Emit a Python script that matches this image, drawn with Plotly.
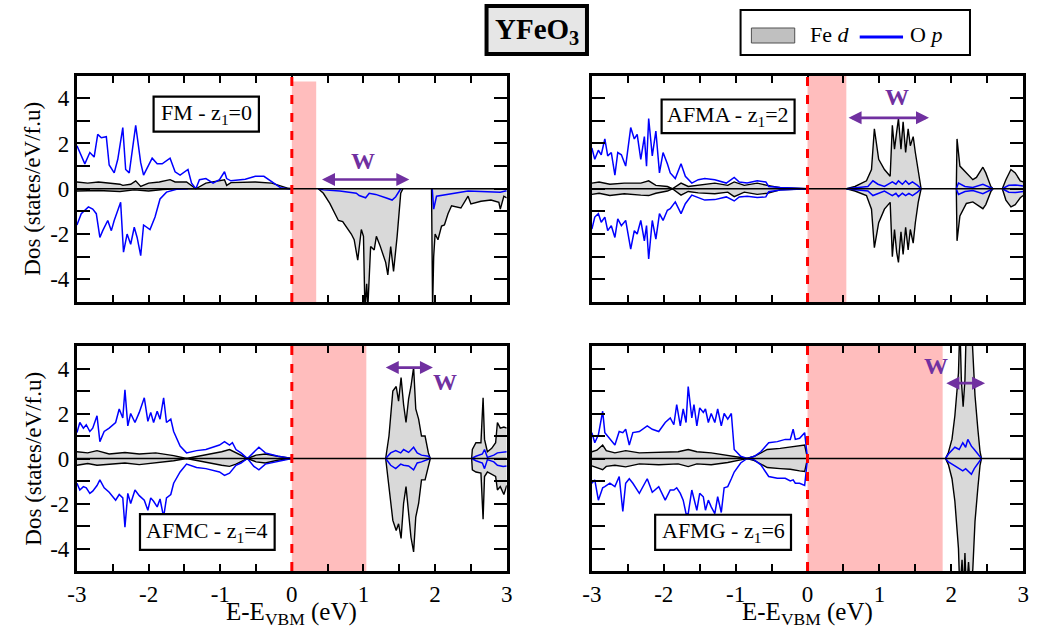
import plotly.graph_objects as go

W, H = 1039, 633
SERIF = "Liberation Serif, Times New Roman, Times, serif"
PURPLE = "#7030a0"
PINK = "#ffbdbd"
GRAY_FILL = "#d9d9d9"
BLUE = "#0000ff"

# ---------------- tick labels ----------------
X_TICKS = [-3, -2, -1, 0, 1, 2, 3]
X_TICK_TEXT = ["-3", "-2", "-1", "0", "1", "2", "3"]
Y_TICKS = [-4, -2, 0, 2, 4]
Y_TICK_TEXT = ["-4", "-2", "0", "2", "4"]

# ---------------- panel labels / band gaps / W arrows ----------------
PANEL_LABELS = ["FM - z<sub>1</sub>=0", "AFMA - z<sub>1</sub>=2",
                "AFMC - z<sub>1</sub>=4", "AFMG - z<sub>1</sub>=6"]
GAP_END = [0.34, 0.54, 1.04, 1.88]
GAP_TOP = [4.74, 5.0, 5.0, 5.0]
W_START = [0.40, 0.55, 1.29, 1.91]
W_END = [1.64, 1.69, 1.97, 2.47]
W_LEVEL = [0.41, 3.13, 4.04, 3.35]

# ---------------- FM ----------------
FM_FE_UP_X = [-3.0, -2.85, -2.7, -2.55, -2.4, -2.36, -2.25, -2.18, -2.11, -2.0, -1.85, -1.70, -1.63,
              -1.47, -1.40, -1.34, -1.20, -1.01, -0.94, -0.91, -0.85, -0.51, -0.28, -0.05, 0.0]
FM_FE_UP_Y = [0.3, 0.25, 0.3, 0.25, 0.2, 0.15, 0.2, 0.35, 0.1, 0.25, 0.3, 0.4, 0.3,
              0.3, 0.15, 0.0, 0.25, 0.35, 0.4, 0.15, 0.27, 0.3, 0.25, 0.02, 0.0]
FM_FE_DN_X = [-3.0, -2.7, -2.4, -2.2, -2.0, -1.8, -1.6, 0.0, None,
              0.37, 0.44, 0.53, 0.60, 0.65, 0.71, 0.78, 0.83, 0.87, 0.92, 0.97, 1.0, 1.02, 1.045,
              1.06, 1.08, 1.10, 1.15, 1.18, 1.23, 1.26, 1.31, 1.34, 1.38, 1.42, 1.47, 1.52, 1.55, None,
              1.95, 1.965, 1.98, 2.0, 2.04, 2.09, 2.13, 2.18, 2.23, 2.36, 2.46, 2.50, 2.64, 2.78,
              2.89, 2.91, 2.96, 3.0]
FM_FE_DN_Y = [-0.1, -0.08, -0.12, -0.05, -0.1, -0.03, 0.0, 0.0, None,
              0.0, -0.2, -0.65, -1.1, -1.4, -1.45, -1.75, -2.0, -2.25, -3.15, -1.8, -2.1, -5.3, -4.2,
              -5.3, -3.75, -2.55, -2.7, -2.1, -2.5, -2.8, -3.25, -3.8, -2.55, -3.65, -2.1, -0.2, 0.0, None,
              0.0, -5.3, -3.0, -2.0, -2.25, -1.65, -1.6, -1.1, -0.75, -0.85, -0.33, -0.67, -0.55, -0.5,
              -0.6, -0.9, -0.33, -0.4]
FM_OP_UP_X = [-3.0, -2.96, -2.89, -2.82, -2.76, -2.71, -2.66, -2.59, -2.55, -2.48, -2.43, -2.36, -2.32,
              -2.27, -2.23, -2.18, -2.11, -2.07, -1.95, -1.88, -1.81, -1.70, -1.63, -1.56, -1.45, -1.40,
              -1.34, -1.29, -1.20, -1.10, -1.01, -0.94, -0.91, -0.85, -0.65, -0.51, -0.39, -0.28, -0.16,
              -0.05, 0.0]
FM_OP_UP_Y = [1.9, 1.6, 1.1, 1.6, 1.4, 2.4, 2.25, 2.3, 1.05, 0.7, 1.3, 2.7, 0.85,
              0.7, 1.6, 2.8, 1.15, 0.6, 1.35, 1.1, 1.1, 1.35, 0.75, 0.6, 0.85, 0.25,
              0.0, 0.4, 0.45, 0.25, 0.4, 0.75, 0.45, 0.35, 0.42, 0.55, 0.55, 0.3, 0.05,
              0.0, 0.0]
FM_OP_DN_X = [-3.0, -2.94, -2.84, -2.78, -2.73, -2.68, -2.64, -2.57, -2.52, -2.48, -2.39, -2.35, -2.30,
              -2.25, -2.20, -2.16, -2.11, -2.07, -1.98, -1.91, -1.84, -1.75, -1.61, -1.45, None,
              0.37, 0.44, 0.67, 0.90, 0.94, 1.03, 1.08, 1.17, 1.31, 1.40, 1.45, 1.52, None,
              1.96, 1.98, 2.02, 2.18, 2.46, 2.73, 2.91, 2.98, 3.0]
FM_OP_DN_Y = [-1.6, -1.1, -0.8, -0.9, -1.1, -2.15, -1.85, -1.4, -1.85, -1.4, -0.6, -2.8, -2.0,
              -2.45, -1.7, -2.15, -2.95, -1.6, -1.8, -1.25, -0.45, -0.15, -0.02, 0.0, None,
              0.0, -0.05, -0.1, -0.2, -0.3, -0.4, -0.2, -0.25, -0.4, -0.5, -0.35, 0.0, None,
              0.0, -0.9, -0.33, -0.25, -0.1, -0.13, -0.15, -0.1, -0.1]

# ---------------- AFMA ----------------
AFMA_FE_X = [-3.0, -2.9, -2.75, -2.55, -2.32, -2.21, -2.11, -1.95, -1.88, -1.76, -1.66, -1.52, -1.29,
             -1.11, -1.02, -0.88, -0.70, -0.56, -0.38, 0.0, None,
             0.543, 0.66, 0.82, 0.89, 0.93, 0.99, 1.07, 1.15, 1.18, 1.21, 1.24, 1.265, 1.30, 1.33,
             1.365, 1.40, 1.43, 1.47, 1.50, 1.54, 1.58, None,
             2.07, 2.08, 2.12, 2.21, 2.30, 2.35, 2.44, 2.48, 2.55, 2.58, None,
             2.71, 2.76, 2.83, 2.89, 2.96, 3.0]
AFMA_FE_UP_Y = [0.25, 0.3, 0.2, 0.25, 0.25, 0.35, 0.15, 0.1, 0.0, 0.25, 0.1, 0.15, 0.25,
                0.15, 0.3, 0.15, 0.25, 0.15, 0.05, 0.0, None,
                0.0, 0.1, 0.35, 0.85, 2.65, 1.3, 0.85, 0.55, 2.8, 1.75, 2.5, 3.1, 1.75, 2.95,
                1.6, 2.65, 1.9, 2.3, 1.6, 0.7, 0.0, None,
                0.0, 2.2, 1.0, 0.7, 0.4, 0.5, 0.95, 0.7, 0.1, 0.0, None,
                0.0, 0.4, 0.85, 0.7, 0.35, 0.3]
AFMA_FE_DN_Y = [-0.25, -0.2, -0.3, -0.22, -0.28, -0.3, -0.2, -0.1, 0.0, -0.28, -0.12, -0.18, -0.22,
                -0.15, -0.35, -0.15, -0.25, -0.2, -0.05, 0.0, None,
                0.0, -0.1, -0.3, -0.9, -2.6, -1.5, -0.9, -0.6, -3.0, -1.8, -2.8, -3.25, -1.9, -2.9,
                -1.7, -2.7, -1.8, -2.4, -1.5, -0.6, 0.0, None,
                0.0, -2.3, -1.2, -0.65, -0.58, -0.7, -0.88, -0.7, -0.13, 0.0, None,
                0.0, -0.5, -0.8, -0.7, -0.4, -0.3]
AFMA_OP_X = [-3.0, -2.96, -2.91, -2.87, -2.82, -2.78, -2.73, -2.68, -2.64, -2.59,
             -2.53, -2.46, -2.41, -2.37, -2.32, -2.27, -2.24, -2.21, -2.16, -2.11,
             -2.06, -2.01, -1.95, -1.91, -1.84, -1.76, -1.70, -1.61, -1.52, -1.43,
             -1.29, -1.13, -1.02, -0.95, -0.84, -0.70, -0.58, -0.54, -0.38, -0.2, 0.0, None,
             0.543, 0.84, 0.91, 0.98, 1.07, 1.18, 1.23, 1.265, 1.32, 1.365, 1.41, 1.46, 1.53, 1.58, None,
             2.07, 2.1, 2.19, 2.3, 2.44, 2.55, 2.58, None,
             2.71, 2.8, 2.89, 3.0]
AFMA_OP_UP_Y = [1.8, 1.3, 1.7, 1.5, 2.2, 1.45, 1.6, 0.6, 1.6, 1.5,
                1.0, 2.7, 2.2, 2.4, 1.3, 2.3, 1.0, 3.1, 1.45, 2.55,
                0.7, 1.6, 1.1, 0.7, 0.45, 1.1, 0.55, 0.25, 0.4, 0.45,
                0.4, 0.25, 0.5, 0.3, 0.25, 0.35, 0.3, 0.1, 0.05, 0.02, 0.0, None,
                0.0, 0.1, 0.35, 0.2, 0.1, 0.3, 0.2, 0.35, 0.2, 0.35, 0.2, 0.3, 0.15, 0.0, None,
                0.0, 0.25, 0.1, 0.06, 0.2, 0.05, 0.0, None,
                0.0, 0.15, 0.17, 0.12]
AFMA_OP_DN_Y = [-1.78, -1.25, -1.1, -1.48, -1.25, -1.85, -1.63, -2.15, -1.33, -1.63,
                -1.4, -2.67, -1.85, -2.0, -1.4, -2.3, -1.63, -3.1, -1.4, -2.22,
                -1.1, -1.4, -0.95, -0.88, -0.58, -1.1, -0.66, -0.28, -0.39, -0.5,
                -0.48, -0.36, -0.54, -0.36, -0.33, -0.39, -0.36, -0.13, -0.06, -0.03, 0.0, None,
                0.0, -0.1, -0.3, -0.2, -0.1, -0.3, -0.2, -0.35, -0.2, -0.3, -0.2, -0.3, -0.15, 0.0, None,
                0.0, -0.25, -0.12, -0.08, -0.22, -0.05, 0.0, None,
                0.0, -0.15, -0.17, -0.12]

# ---------------- AFMC ----------------
AFMC_FE_X = [-3.0, -2.85, -2.72, -2.55, -2.33, -2.13, -1.9, -1.65, -1.47, -1.2, -0.98, -0.87, -0.78,
             -0.62, -0.5, -0.37, -0.2, 0.0, None,
             1.31, 1.356, 1.41, 1.457, 1.49, 1.525, 1.56, 1.594, 1.63, 1.663, 1.70, 1.73, 1.77, 1.81,
             1.86, 1.906, 1.933, None,
             2.51, 2.52, 2.57, 2.64, 2.67, 2.69, 2.73, 2.79, 2.845, 2.87, 2.91, 2.96, 3.0]
AFMC_FE_UP_Y = [0.3, 0.25, 0.35, 0.2, 0.27, 0.2, 0.25, 0.13, 0.0, 0.15, 0.3, 0.4, 0.25,
                0.0, 0.15, 0.2, 0.1, 0.0, None,
                0.0, 1.0, 3.0, 3.2, 2.55, 3.6, 2.4, 1.6, 2.65, 3.2, 4.05, 2.2, 1.75, 1.0,
                1.0, 0.25, 0.0, None,
                0.0, 0.4, 0.7, 0.7, 2.7, 0.85, 0.3, 0.45, 0.7, 1.6, 1.35, 1.4, 1.35]
AFMC_FE_DN_Y = [-0.3, -0.22, -0.3, -0.25, -0.2, -0.27, -0.2, -0.1, 0.0, -0.18, -0.3, -0.35, -0.25,
                0.0, -0.15, -0.2, -0.08, 0.0, None,
                0.0, -1.25, -2.75, -3.2, -2.9, -3.55, -2.0, -1.25, -2.45, -3.5, -4.15, -2.6, -2.0, -0.95,
                -0.95, -0.35, 0.0, None,
                0.0, -0.5, -0.6, -0.65, -2.7, -0.8, -0.6, -0.7, -0.8, -1.4, -1.25, -1.6, -1.2]
AFMC_OP_X = [-3.0, -2.96, -2.91, -2.87, -2.82, -2.78, -2.72, -2.68, -2.62, -2.55,
             -2.46, -2.41, -2.36, -2.33, -2.29, -2.25, -2.19, -2.13, -2.06, -2.01,
             -1.97, -1.93, -1.88, -1.84, -1.79, -1.75, -1.69, -1.65, -1.56, -1.47,
             -1.33, -1.20, -1.01, -0.94, -0.87, -0.83, -0.78, -0.71, -0.62, -0.53,
             -0.46, -0.37, -0.19, 0.0, None,
             1.31, 1.38, 1.45, 1.52, 1.56, 1.63, 1.70, 1.75, 1.81, 1.906, 1.933, None,
             2.51, 2.57, 2.66, 2.69, 2.73, 2.82, 2.87, 2.95, 3.0]
AFMC_OP_UP_Y = [1.15, 1.6, 1.35, 1.5, 1.2, 1.35, 1.9, 0.75, 1.2, 1.35,
                1.6, 2.2, 1.8, 3.05, 1.45, 2.0, 1.6, 2.05, 2.7, 1.65,
                2.05, 1.6, 2.1, 1.75, 2.7, 1.6, 1.75, 1.2, 0.55, 0.25,
                0.35, 0.4, 0.6, 0.75, 0.6, 0.7, 0.4, 0.25, 0.0, 0.3,
                0.5, 0.25, 0.1, 0.0, None,
                0.0, 0.25, 0.35, 0.25, 0.4, 0.27, 0.5, 0.25, 0.15, 0.1, 0.0, None,
                0.0, 0.1, 0.2, 0.4, 0.05, 0.15, 0.25, 0.3, 0.3]
AFMC_OP_DN_Y = [-1.1, -1.4, -1.25, -1.3, -1.55, -1.45, -1.2, -0.95, -1.3, -1.5,
                -1.85, -1.6, -1.75, -3.05, -1.55, -2.0, -1.4, -1.65, -1.85, -2.3,
                -1.75, -1.9, -2.15, -1.8, -2.6, -1.75, -1.6, -1.1, -0.6, -0.25,
                -0.4, -0.45, -0.6, -0.75, -0.65, -0.5, -0.3, -0.2, 0.0, -0.35,
                -0.5, -0.25, -0.12, 0.0, None,
                0.0, -0.3, -0.45, -0.25, -0.3, -0.33, -0.5, -0.2, -0.15, -0.06, 0.0, None,
                0.0, -0.1, -0.2, -0.45, -0.05, -0.15, -0.3, -0.35, -0.33]

# ---------------- AFMG ----------------
AFMG_FE_UP_X = [-3.0, -2.93, -2.85, -2.80, -2.68, -2.53, -2.34, -2.07, -1.8, -1.66, -1.54, -1.34,
                -1.11, -0.93, -0.84, -0.74, -0.56, -0.38, -0.24, -0.11, -0.04, 0.0, None,
                1.92, 1.96, 2.01, 2.05, 2.10, 2.12, 2.14, 2.165, 2.19, 2.21, 2.28, 2.30, 2.33, 2.37,
                2.40, 2.42]
AFMG_FE_UP_Y = [0.3, 0.37, 0.6, 0.35, 0.25, 0.35, 0.25, 0.28, 0.3, 0.4, 0.3, 0.25,
                0.15, 0.05, 0.0, 0.1, 0.4, 0.45, 0.5, 0.55, 0.6, 0.0, None,
                0.0, 0.27, 0.86, 1.9, 3.8, 6.0, 3.5, 2.3, 3.5, 6.0, 6.0, 4.9, 2.8, 1.3,
                0.3, 0.0]
AFMG_FE_DN_X = [-3.0, -2.93, -2.85, -2.80, -2.68, -2.53, -2.34, -2.07, -1.8, -1.66, -1.54, -1.34,
                -1.11, -0.93, -0.84, -0.74, -0.56, -0.38, -0.24, -0.11, -0.04, 0.0, None,
                1.92, 1.96, 2.01, 2.05, 2.10, 2.12, 2.15, 2.17, 2.19, 2.21, 2.24, 2.27, 2.30, 2.33,
                2.37, 2.40, 2.42]
AFMG_FE_DN_Y = [-0.33, -0.4, -0.5, -0.35, -0.3, -0.37, -0.24, -0.28, -0.24, -0.36, -0.24, -0.28,
                -0.18, -0.06, 0.0, -0.09, -0.4, -0.45, -0.48, -0.55, -0.58, 0.0, None,
                0.0, -0.27, -0.9, -1.9, -4.0, -6.0, -4.5, -6.0, -4.2, -6.0, -4.6, -6.0, -4.9, -2.8,
                -1.3, -0.3, 0.0]
AFMG_OP_VB_X = [-3.0, -2.96, -2.91, -2.85, -2.82, -2.75, -2.68, -2.62, -2.57, -2.53,
                -2.48, -2.43, -2.34, -2.23, -2.16, -2.07, -1.98, -1.91, -1.86, -1.82,
                -1.77, -1.73, -1.69, -1.66, -1.61, -1.58, -1.54, -1.50, -1.45, -1.42,
                -1.38, -1.34, -1.29, -1.25, -1.20, -1.16, -1.11, -1.06, -1.02, -0.93,
                -0.84, -0.74, -0.65, -0.54, -0.42, -0.31, -0.24, -0.20, -0.17, -0.11,
                -0.04, 0.0]
AFMG_OP_UP_X = AFMG_OP_VB_X + [None, 1.92, 1.96, 2.05, 2.11, 2.16, 2.20, 2.23, 2.28, 2.32, 2.38, 2.42]
AFMG_OP_UP_Y = [1.15, 0.7, 1.05, 2.1, 1.15, 0.85, 0.6, 1.2, 1.15, 1.3,
                0.6, 1.15, 1.2, 1.45, 1.3, 1.2, 1.6, 1.8, 1.5, 2.4,
                1.45, 2.2, 1.6, 3.2, 1.8, 2.4, 1.45, 2.25, 2.05, 2.2,
                1.6, 2.0, 1.6, 2.2, 1.45, 2.0, 1.75, 2.0, 0.4, 0.1,
                0.0, 0.1, 0.3, 0.7, 0.75, 0.85, 0.85, 1.3, 0.85, 0.9,
                1.15, 0.0, None,
                0.0, 0.2, 0.5, 0.4, 0.7, 0.5, 0.85, 0.55, 0.4, 0.15, 0.0]
AFMG_OP_DN_X = AFMG_OP_VB_X + [None, 1.92, 1.96, 2.05, 2.16, 2.20, 2.28, 2.32, 2.38, 2.42]
AFMG_OP_DN_Y = [-1.1, -0.95, -1.85, -1.3, -1.25, -1.1, -1.25, -0.8, -2.35, -1.1,
                -0.9, -1.1, -1.55, -0.9, -1.5, -1.25, -1.85, -1.4, -1.4, -1.3,
                -1.55, -1.85, -2.45, -2.45, -1.4, -1.85, -2.3, -1.55, -1.7, -2.3,
                -1.85, -2.15, -2.45, -1.7, -2.4, -1.3, -1.25, -0.9, -0.6, -0.2,
                0.0, -0.06, -0.28, -0.8, -0.88, -0.88, -1.0, -0.95, -1.1, -1.1,
                -1.2, 0.0, None,
                0.0, -0.15, -0.33, -0.55, -0.45, -0.7, -0.45, -0.15, 0.0]

# ---------------- assemble ----------------
FE_UP = [(FM_FE_UP_X, FM_FE_UP_Y), (AFMA_FE_X, AFMA_FE_UP_Y), (AFMC_FE_X, AFMC_FE_UP_Y), (AFMG_FE_UP_X, AFMG_FE_UP_Y)]
FE_DN = [(FM_FE_DN_X, FM_FE_DN_Y), (AFMA_FE_X, AFMA_FE_DN_Y), (AFMC_FE_X, AFMC_FE_DN_Y), (AFMG_FE_DN_X, AFMG_FE_DN_Y)]
OP_UP = [(FM_OP_UP_X, FM_OP_UP_Y), (AFMA_OP_X, AFMA_OP_UP_Y), (AFMC_OP_X, AFMC_OP_UP_Y), (AFMG_OP_UP_X, AFMG_OP_UP_Y)]
OP_DN = [(FM_OP_DN_X, FM_OP_DN_Y), (AFMA_OP_X, AFMA_OP_DN_Y), (AFMC_OP_X, AFMC_OP_DN_Y), (AFMG_OP_DN_X, AFMG_OP_DN_Y)]

# label-box extents in data units (x0, x1, y0, y1)
LABEL_BOX = [(-1.93, -0.46, 2.52, 4.07), (-2.03, -0.18, 2.46, 3.94),
             (-2.12, -0.24, -4.06, -2.47), (-2.12, -0.23, -4.06, -2.50)]
W_TEXT_POS = [(1.0, 1.23), (1.25, 4.04), (2.14, 3.4), (1.79, 4.1)]


def pxx(x):
    return x / W


def pxy(y):
    return 1 - y / H


X_DOM = [[pxx(68), pxx(504.5)], [pxx(591), pxx(1029)], [pxx(68), pxx(504.5)], [pxx(591), pxx(1029)]]
Y_DOM = [[pxy(302), pxy(75.5)], [pxy(302), pxy(75.5)], [pxy(571), pxy(346)], [pxy(571), pxy(346)]]

fig = go.Figure()
layout = dict(width=W, height=H, margin=dict(l=0, r=0, t=0, b=0),
              plot_bgcolor="white", paper_bgcolor="white", showlegend=False,
              font=dict(family=SERIF, size=22, color="black"))
shapes = []
annotations = []

for i in range(4):
    sfx = "" if i == 0 else str(i + 1)
    xa, ya = "x" + sfx, "y" + sfx
    for (xs, ys) in (FE_UP[i], FE_DN[i]):
        fig.add_trace(go.Scatter(x=xs, y=ys, mode="lines", xaxis=xa, yaxis=ya,
                                 line=dict(color="black", width=1.4), fill="tozeroy",
                                 fillcolor=GRAY_FILL, connectgaps=False, hoverinfo="skip"))
    for (xs, ys) in (OP_UP[i], OP_DN[i]):
        fig.add_trace(go.Scatter(x=xs, y=ys, mode="lines", xaxis=xa, yaxis=ya,
                                 line=dict(color=BLUE, width=1.5), connectgaps=False, hoverinfo="skip"))

    bottom = i >= 2
    left = i % 2 == 0
    layout["xaxis" + sfx] = dict(
        domain=X_DOM[i], anchor=ya, range=[-3, 3], tickmode="array", tickvals=X_TICKS,
        ticktext=X_TICK_TEXT, showticklabels=bottom, ticks="inside", ticklen=7, tickwidth=2,
        tickcolor="black", showline=True, linecolor="black", linewidth=3, mirror="ticks",
        showgrid=False, zeroline=False, tickfont=dict(family=SERIF, size=23),
        minor=dict(tickmode="linear", tick0=0, dtick=0.5, ticks="inside", ticklen=7,
                   tickwidth=2, tickcolor="black", showgrid=False))
    layout["yaxis" + sfx] = dict(
        domain=Y_DOM[i], anchor=xa, range=[-5, 5], tickmode="array", tickvals=Y_TICKS,
        ticktext=Y_TICK_TEXT, showticklabels=left, ticks="inside", ticklen=13, tickwidth=2,
        tickcolor="black", showline=True, linecolor="black", linewidth=3, mirror="ticks",
        showgrid=False, zeroline=False, tickfont=dict(family=SERIF, size=23),
        minor=dict(tickmode="linear", tick0=0, dtick=1, ticks="inside", ticklen=13,
                   tickwidth=2, tickcolor="black", showgrid=False))

    shapes.append(dict(type="rect", xref=xa, yref=ya, x0=0, x1=GAP_END[i], y0=-5, y1=GAP_TOP[i],
                       fillcolor=PINK, line=dict(width=0), layer="below"))
    shapes.append(dict(type="line", xref=xa, yref=ya, x0=-3, x1=3, y0=0, y1=0,
                       line=dict(color="black", width=1.6), layer="above"))
    shapes.append(dict(type="line", xref=xa, yref=ya, x0=0, x1=0, y0=-5, y1=5,
                       line=dict(color="#ff0000", width=3, dash="dash"), layer="above"))
    bx0, bx1, by0, by1 = LABEL_BOX[i]
    shapes.append(dict(type="rect", xref=xa, yref=ya, x0=bx0, x1=bx1, y0=by0, y1=by1,
                       fillcolor="white", line=dict(color="black", width=2.2), layer="above"))
    annotations.append(dict(xref=xa, yref=ya, x=(bx0 + bx1) / 2, y=(by0 + by1) / 2,
                            text=PANEL_LABELS[i], showarrow=False,
                            font=dict(family=SERIF, size=22, color="black")))
    annotations.append(dict(xref=xa, yref=ya, axref=xa, ayref=ya, x=W_END[i], y=W_LEVEL[i],
                            ax=W_START[i], ay=W_LEVEL[i], text="", showarrow=True,
                            arrowhead=2, startarrowhead=2, arrowside="end+start", arrowsize=1,
                            startarrowsize=1, arrowwidth=2.6, arrowcolor=PURPLE,
                            standoff=0, startstandoff=0))
    annotations.append(dict(xref=xa, yref=ya, x=W_TEXT_POS[i][0], y=W_TEXT_POS[i][1],
                            text="<b>W</b>", showarrow=False,
                            font=dict(family=SERIF, size=24, color=PURPLE)))

for cy in (189, 459):
    annotations.append(dict(xref="paper", yref="paper", x=pxx(23), y=pxy(cy), text="Dos (states/eV/f.u)",
                            textangle=-90, showarrow=False, xanchor="center", yanchor="middle",
                            font=dict(family=SERIF, size=23)))
for cx in (286, 810):
    annotations.append(dict(xref="paper", yref="paper", x=pxx(cx), y=pxy(596),
                            text="E-E<sub>VBM</sub> (eV)", showarrow=False, xanchor="center",
                            yanchor="top", font=dict(family=SERIF, size=25)))

shapes.append(dict(type="rect", xref="paper", yref="paper", x0=pxx(484), x1=pxx(586), y0=pxy(54),
                   y1=pxy(6), fillcolor="#e6e6e6", line=dict(color="black", width=4)))
annotations.append(dict(xref="paper", yref="paper", x=pxx(535), y=pxy(31), text="<b>YFeO<sub>3</sub></b>",
                        showarrow=False, xanchor="center", yanchor="middle",
                        font=dict(family=SERIF, size=29, color="black")))

shapes.append(dict(type="rect", xref="paper", yref="paper", x0=pxx(742), x1=pxx(975), y0=pxy(55),
                   y1=pxy(10), fillcolor="white", line=dict(color="black", width=2)))
shapes.append(dict(type="rect", xref="paper", yref="paper", x0=pxx(753), x1=pxx(797), y0=pxy(43),
                   y1=pxy(28), fillcolor="#c0c0c0", line=dict(color="#505050", width=1)))
annotations.append(dict(xref="paper", yref="paper", x=pxx(810), y=pxy(35), text="Fe <i>d</i>",
                        showarrow=False, xanchor="left", yanchor="middle",
                        font=dict(family=SERIF, size=22, color="black")))
shapes.append(dict(type="line", xref="paper", yref="paper", x0=pxx(863), x1=pxx(907), y0=pxy(37),
                   y1=pxy(37), line=dict(color=BLUE, width=3)))
annotations.append(dict(xref="paper", yref="paper", x=pxx(912), y=pxy(35), text="O <i>p</i>",
                        showarrow=False, xanchor="left", yanchor="middle",
                        font=dict(family=SERIF, size=22, color="black")))

layout["shapes"] = shapes
layout["annotations"] = annotations
fig.update_layout(**layout)
fig.write_html("out.html")
